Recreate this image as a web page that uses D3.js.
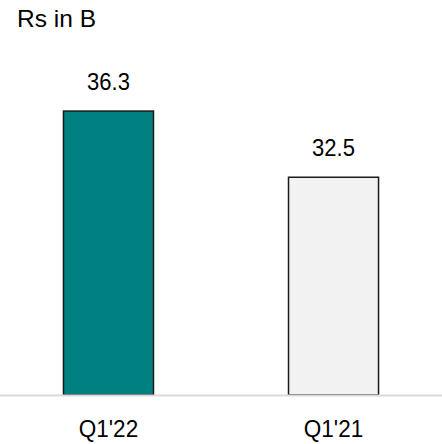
<!DOCTYPE html>
<html>
<head>
<meta charset="utf-8">
<script src="https://cdn.jsdelivr.net/npm/d3@7"></script>
<style>
  body { margin: 0; background: #fff; }
  svg { display: block; font-family: "Liberation Sans", Arial, sans-serif; }
</style>
</head>
<body>
<div id="chart"></div>
<script>
var width = 442,
    height = 444;

// data
var quarters = ["Q1'22", "Q1'21"];
var revenue = [36.3, 32.5];
var barColors = ["#008080", "#f2f2f2"];
var unitLabel = "Rs in B";

var x = d3.scaleBand()
    .domain(quarters)
    .range([0, width])
    .paddingInner(0.6)
    .paddingOuter(0.282);

// axis does not start at zero in the original
var y = d3.scaleLinear()
    .domain([20, 38])
    .range([395, 395 - 18 * 17.42]);

var svg = d3.select("#chart").append("svg")
    .attr("width", width)
    .attr("height", height);

svg.append("text")
    .attr("x", 17)
    .attr("y", 27)
    .attr("font-size", "24.5px")
    .attr("fill", "#000")
    .text(unitLabel);

svg.selectAll(".bar")
    .data(quarters)
    .enter().append("rect")
    .attr("class", "bar")
    .attr("x", function (d) { return x(d); })
    .attr("width", x.bandwidth())
    .attr("y", function (d, i) { return y(revenue[i]); })
    .attr("height", function (d, i) { return y(20) - y(revenue[i]); })
    .attr("fill", function (d, i) { return barColors[i]; })
    .attr("stroke", "#1a1a1a")
    .attr("stroke-width", 1.5);

// baseline
svg.append("line")
    .attr("x1", 0)
    .attr("x2", width)
    .attr("y1", y(20) + 0.5)
    .attr("y2", y(20) + 0.5)
    .attr("stroke", "#d9d9d9")
    .attr("stroke-width", 2);

svg.selectAll(".val")
    .data(quarters)
    .enter().append("text")
    .attr("class", "val")
    .attr("text-anchor", "middle")
    .attr("font-size", "24.5px")
    .attr("transform", function (d, i) {
        return "translate(" + (x(d) + x.bandwidth() / 2) + "," + (y(revenue[i]) - 21) + ") scale(0.9,1)";
    })
    .text(function (d, i) { return revenue[i].toFixed(1); });

svg.selectAll(".cat")
    .data(quarters)
    .enter().append("text")
    .attr("class", "cat")
    .attr("text-anchor", "middle")
    .attr("font-size", "24.5px")
    .attr("transform", function (d) {
        return "translate(" + (x(d) + x.bandwidth() / 2) + ",437) scale(0.92,1)";
    })
    .text(function (d) { return d; });
</script>
</body>
</html>
